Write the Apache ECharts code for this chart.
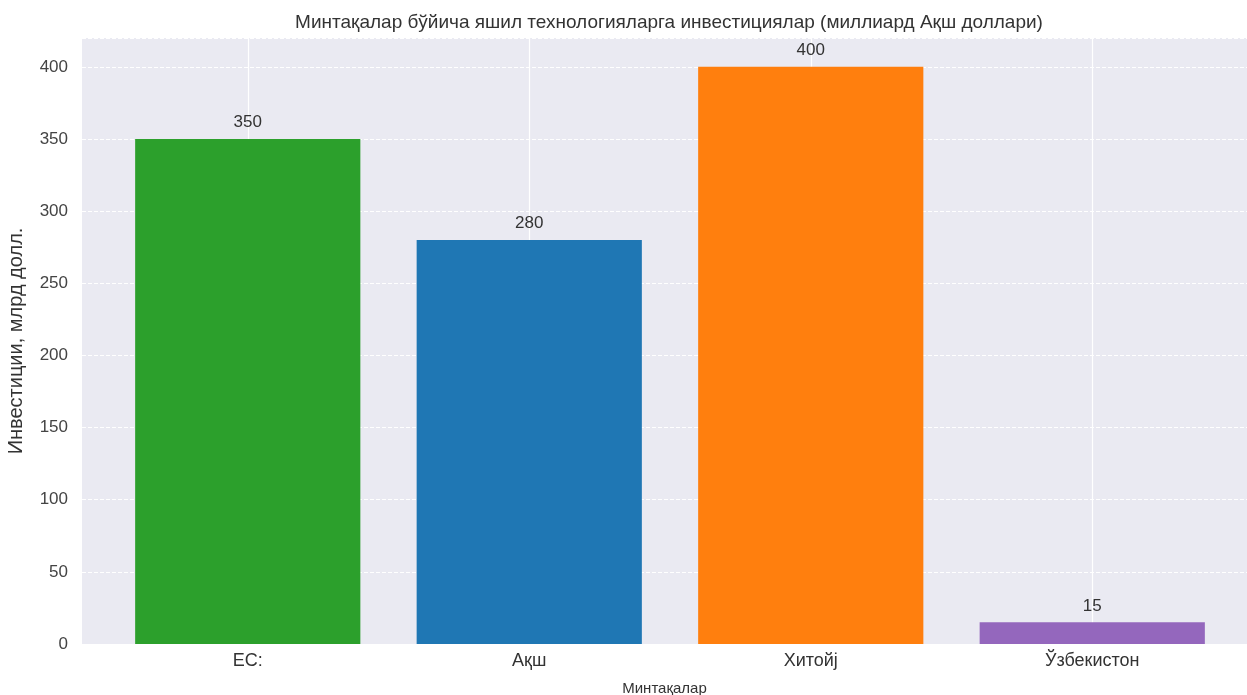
<!DOCTYPE html>
<html>
<head>
<meta charset="utf-8">
<script src="https://cdn.jsdelivr.net/npm/echarts@6/dist/echarts.min.js"></script>
<style>
html,body{margin:0;padding:0;background:#ffffff;}
#chart{width:1247px;height:695px;}
</style>
</head>
<body>
<div id="chart"></div>
<script>
const categories = ['ЕС:', 'Ақш', 'Хитойј', 'Ўзбекистон'];
const investments = [350, 280, 400, 15];
const barColors = ['#2ca02c', '#1f77b4', '#ff7f0e', '#9467bd'];
const titleText = 'Минтақалар бўйича яшил технологияларга инвестициялар (миллиард Ақш доллари)';
const xName = 'Минтақалар';
const yName = 'Инвестиции, млрд долл.';

const font = "'Liberation Sans', Arial, sans-serif";
const chart = echarts.init(document.getElementById('chart'), null, {renderer: 'canvas'});

// helper half-band slots so vertical grid lines fall on category centres
const halfSlots = [];
for (let i = 0; i <= categories.length * 2; i++) halfSlots.push(String(i));

const option = {
  backgroundColor: '#ffffff',
  animation: false,
  textStyle: {fontFamily: font},
  title: {
    text: titleText,
    left: 664,
    textAlign: 'center',
    top: 8,
    textStyle: {fontFamily: font, fontSize: 19, fontWeight: 'normal', color: '#333333'}
  },
  grid: [
    {left: 82, right: 0, top: 38, bottom: 51, show: true, backgroundColor: '#EAEAF2', borderWidth: 0,
     containLabel: false, outerBoundsMode: 'none'},
    {left: 107, width: 1126, top: 38, bottom: 51, containLabel: false, outerBoundsMode: 'none'}
  ],
  xAxis: [
    {
      gridIndex: 0, type: 'category', data: categories,
      axisLine: {show: false}, axisTick: {show: false}, axisLabel: {show: false},
      splitLine: {show: false},
      name: xName, nameLocation: 'middle', nameGap: 37,
      nameTextStyle: {fontFamily: font, fontSize: 15, color: '#333333'}
    },
    {
      gridIndex: 1, type: 'category', data: categories,
      axisLine: {show: false}, axisTick: {show: false},
      axisLabel: {fontFamily: font, fontSize: 18, color: '#333333', margin: 8},
      splitLine: {show: false}
    },
    {
      gridIndex: 1, type: 'category', data: halfSlots, boundaryGap: false,
      axisLine: {show: false}, axisTick: {show: false}, axisLabel: {show: false},
      splitLine: {show: true, interval: (idx) => idx % 2 === 1,
                  lineStyle: {color: '#ffffff', type: 'solid', width: 1.2}}
    }
  ],
  yAxis: [
    {
      gridIndex: 0, type: 'value', min: 0, max: 420, interval: 50,
      axisLine: {show: false}, axisTick: {show: false},
      axisLabel: {fontFamily: font, fontSize: 17, color: '#444444', margin: 14, showMaxLabel: false},
      splitLine: {show: true, lineStyle: {color: '#ffffff', type: 'dashed', width: 1}},
      name: yName, nameLocation: 'middle', nameGap: 56,
      nameTextStyle: {fontFamily: font, fontSize: 20, color: '#333333'}
    },
    {
      gridIndex: 1, type: 'value', min: 0, max: 420, interval: 50, show: false,
      splitLine: {show: false}
    }
  ],
  series: [
    {
      type: 'bar', xAxisIndex: 1, yAxisIndex: 1, z: 3,
      barWidth: '80%',
      data: investments.map((v, i) => ({value: v, itemStyle: {color: barColors[i]}})),
      label: {show: true, position: 'top', distance: 8, fontFamily: font, fontSize: 17, color: '#333333'}
    }
  ]
};
chart.setOption(option);
</script>
</body>
</html>
